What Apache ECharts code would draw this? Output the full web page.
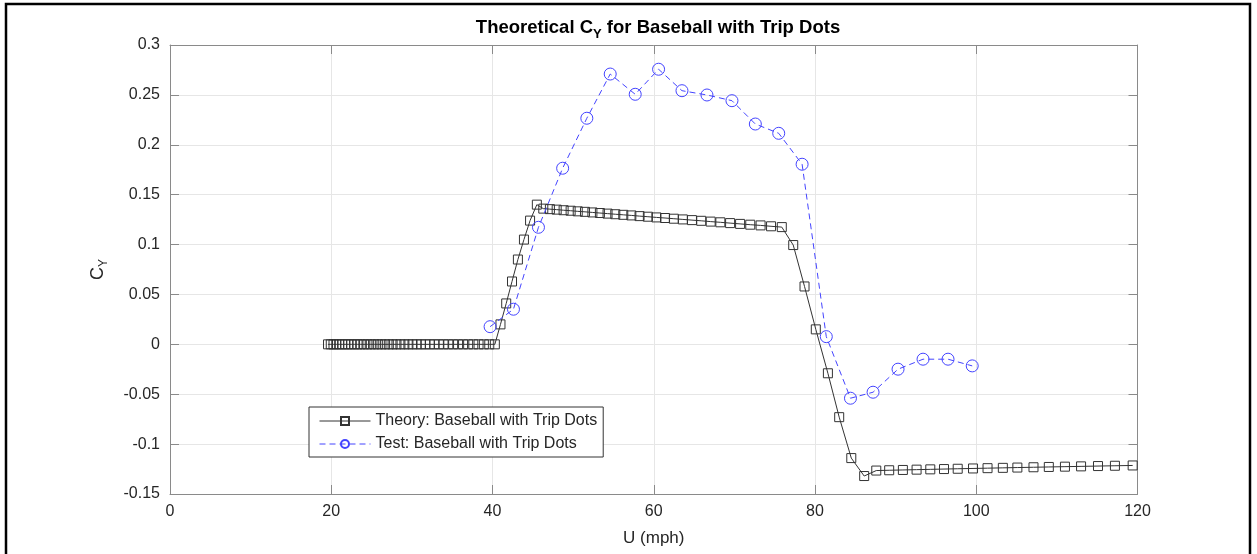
<!DOCTYPE html>
<html>
<head>
<meta charset="utf-8">
<script src="https://cdn.jsdelivr.net/npm/echarts@6/dist/echarts.min.js"></script>
<style>
html,body{margin:0;padding:0;background:#fff;}
#chart{width:1257px;height:554px;}
</style>
</head>
<body>
<div id="chart"></div>
<script>
// ---- data ----
var theoryU = [
  19.60, 19.94, 20.28, 20.63, 20.99, 21.35, 21.72, 22.10, 22.48, 22.87,
  23.26, 23.66, 24.07, 24.49, 24.91, 25.34, 25.78, 26.23, 26.68, 27.14,
  27.61, 28.09, 28.58, 29.07, 29.57, 30.08, 30.60, 31.13, 31.67, 32.22,
  32.78, 33.35, 33.93, 34.52, 35.12, 35.73, 36.35, 36.98, 37.62, 38.27,
  38.93, 39.60, 40.29,
  40.99, 41.70, 42.42, 43.15, 43.90, 44.66, 45.50,
  46.30, 47.12, 47.96, 48.82, 49.69, 50.57, 51.47, 52.39, 53.32, 54.27,
  55.23, 56.22, 57.22, 58.24, 59.27, 60.33, 61.40, 62.49, 63.61, 64.74,
  65.89, 67.06, 68.26, 69.47, 70.71, 71.97, 73.25, 74.55, 75.88,
  77.30, 78.70, 80.10, 81.60, 83.00, 84.50, 86.10,
  87.60, 89.20, 90.90, 92.60, 94.30, 96.00, 97.70, 99.60, 101.40, 103.30,
  105.10, 107.10, 109.00, 111.00, 113.00, 115.10, 117.20, 119.40
];
var theoryCY = [
  0, 0, 0, 0, 0, 0, 0, 0, 0, 0,
  0, 0, 0, 0, 0, 0, 0, 0, 0, 0,
  0, 0, 0, 0, 0, 0, 0, 0, 0, 0,
  0, 0, 0, 0, 0, 0, 0, 0, 0, 0,
  0, 0, 0,
  0.020, 0.041, 0.063, 0.085, 0.105, 0.124, 0.140,
  0.1360, 0.1355, 0.1350, 0.1344, 0.1339, 0.1333, 0.1328, 0.1322, 0.1316, 0.1310,
  0.1304, 0.1298, 0.1292, 0.1285, 0.1279, 0.1272, 0.1266, 0.1259, 0.1252, 0.1245,
  0.1238, 0.1230, 0.1223, 0.1215, 0.1207, 0.1199, 0.1192, 0.1183, 0.1175,
  0.0995, 0.058, 0.015, -0.029, -0.073, -0.114, -0.132,
  -0.1265, -0.1262, -0.1259, -0.1256, -0.1253, -0.1250, -0.1247, -0.1244, -0.1241, -0.1238,
  -0.1235, -0.1232, -0.1229, -0.1226, -0.1223, -0.1220, -0.1217, -0.1214
];
var testU = [39.7, 42.6, 45.7, 48.7, 51.7, 54.6, 57.7, 60.6, 63.5, 66.6, 69.7,
             72.6, 75.5, 78.4, 81.4, 84.4, 87.2, 90.3, 93.4, 96.5, 99.5];
var testCY = [0.0177, 0.0352, 0.1173, 0.1765, 0.2266, 0.2709, 0.2506, 0.2757, 0.2542, 0.2499, 0.2442,
              0.2208, 0.2115, 0.1805, 0.0077, -0.0540, -0.0480, -0.0249, -0.0149, -0.0149, -0.0216];
var seriesNames = ['Theory: Baseball with Trip Dots', 'Test: Baseball with Trip Dots'];
var xTicks = {min: 0, max: 120, interval: 20};
var yTicks = {min: -0.15, max: 0.3, interval: 0.05};

function pairs(xs, ys) { return xs.map(function (x, i) { return [x, ys[i]]; }); }

var FONT = '"Liberation Sans", Arial, Helvetica, sans-serif';
var AXIS_COLOR = '#8a8a8a';
var TEXT_COLOR = '#262626';

var chart = echarts.init(document.getElementById('chart'), null, {renderer: 'canvas'});

function baseAxis(extra) {
  var o = {
    type: 'value',
    axisLine: {show: true, onZero: false, lineStyle: {color: AXIS_COLOR, width: 1}},
    axisTick: {show: true, inside: true, length: 9, lineStyle: {color: AXIS_COLOR}},
    splitLine: {show: false},
    axisLabel: {show: false}
  };
  for (var k in extra) o[k] = extra[k];
  return o;
}

var option = {
  animation: false,
  backgroundColor: '#fff',
  textStyle: {fontFamily: FONT},
  graphic: [{
    type: 'rect',
    shape: {x: 6, y: 4, width: 1244, height: 620},
    style: {fill: 'none', stroke: '#000', lineWidth: 2.5},
    silent: true, z: 100
  }],
  title: {
    text: '{a|Theoretical C}{s|Y}{a| for Baseball with Trip Dots}',
    left: 653, top: 10, textAlign: 'center',
    textStyle: {
      rich: {
        a: {fontFamily: FONT, fontSize: 18.5, fontWeight: 'bold', color: '#000', lineHeight: 26},
        s: {fontFamily: FONT, fontSize: 13, fontWeight: 'bold', color: '#000', lineHeight: 13, padding: [13, 0, 0, 0]}
      }
    }
  },
  grid: {left: 170, right: 119.5, top: 45, bottom: 60, containLabel: false},
  legend: {
    orient: 'vertical',
    left: 309, top: 407,
    padding: [6, 6, 5, 10],
    itemGap: 7,
    itemWidth: 51, itemHeight: 10,
    backgroundColor: '#fff',
    borderColor: '#333', borderWidth: 1,
    lineStyle: {width: 1},
    textStyle: {fontFamily: FONT, fontSize: 16, color: TEXT_COLOR},
    data: seriesNames
  },
  xAxis: [
    baseAxis({
      position: 'bottom',
      min: xTicks.min, max: xTicks.max, interval: xTicks.interval,
      name: 'U (mph)', nameLocation: 'middle', nameGap: 36,
      nameTextStyle: {fontFamily: FONT, fontSize: 17, color: TEXT_COLOR},
      axisLabel: {show: true, fontFamily: FONT, fontSize: 16, color: TEXT_COLOR, margin: 10},
      splitLine: {show: true, lineStyle: {color: '#e6e6e6', width: 1}}
    }),
    baseAxis({position: 'top', min: xTicks.min, max: xTicks.max, interval: xTicks.interval})
  ],
  yAxis: [
    baseAxis({
      position: 'left',
      min: yTicks.min, max: yTicks.max, interval: yTicks.interval,
      name: '{c|C}{s|Y}', nameLocation: 'middle', nameGap: 60, nameRotate: 90,
      nameTextStyle: {
        rich: {
          c: {fontFamily: FONT, fontSize: 18, color: TEXT_COLOR, lineHeight: 24},
          s: {fontFamily: FONT, fontSize: 12, color: TEXT_COLOR, lineHeight: 12, padding: [12, 0, 0, 0]}
        }
      },
      axisLabel: {
        show: true, fontFamily: FONT, fontSize: 16, color: TEXT_COLOR, margin: 10,
        formatter: function (v) { return String(Math.round(v * 100) / 100); }
      },
      splitLine: {show: true, lineStyle: {color: '#e6e6e6', width: 1}}
    }),
    baseAxis({position: 'right', min: yTicks.min, max: yTicks.max, interval: yTicks.interval})
  ],
  series: [
    {
      name: seriesNames[0],
      type: 'line',
      xAxisIndex: 0, yAxisIndex: 0,
      data: pairs(theoryU, theoryCY),
      symbol: 'rect', symbolSize: 9, showAllSymbol: true,
      lineStyle: {color: '#333333', width: 1},
      itemStyle: {color: 'rgba(0,0,0,0)', borderColor: '#333333', borderWidth: 1},
      z: 3
    },
    {
      name: seriesNames[1],
      type: 'line',
      xAxisIndex: 0, yAxisIndex: 0,
      data: pairs(testU, testCY),
      symbol: 'circle', symbolSize: 12, showAllSymbol: true,
      lineStyle: {color: '#4444ff', width: 1, type: [6, 4]},
      itemStyle: {color: 'rgba(0,0,0,0)', borderColor: '#4444ff', borderWidth: 1},
      z: 4
    }
  ]
};
chart.setOption(option);
</script>
</body>
</html>
